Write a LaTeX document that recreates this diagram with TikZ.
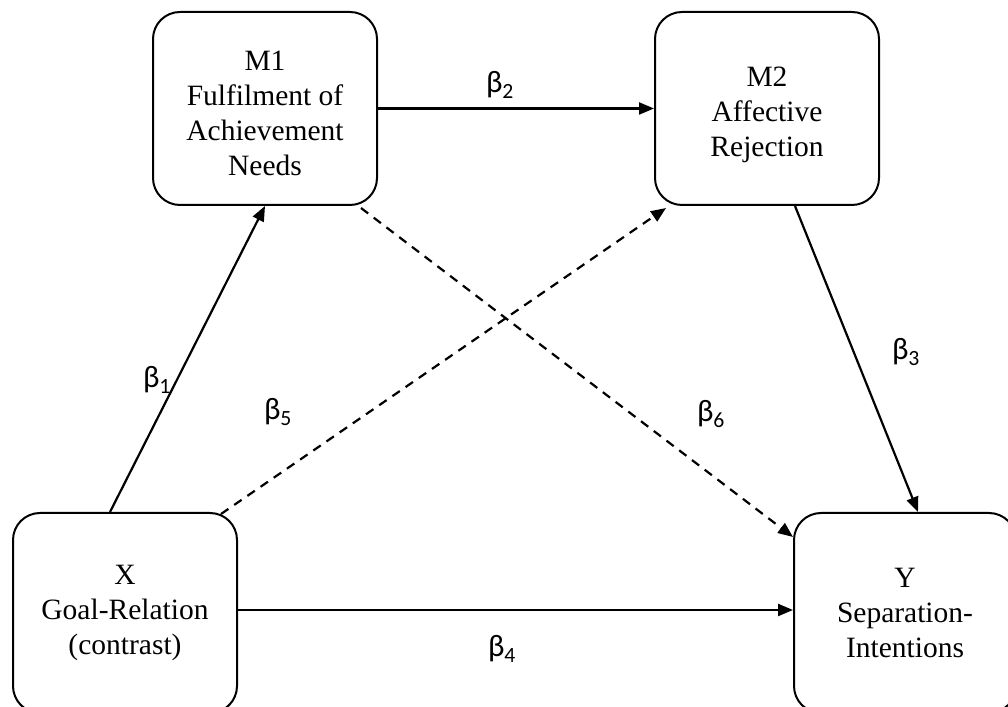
\documentclass[tikz,border=0pt]{standalone}
\usepackage{fontspec}
\setmainfont{Liberation Serif}
\newfontfamily\betafont{Carlito}
\usetikzlibrary{arrows.meta}
\begin{document}
\begin{tikzpicture}[x=1pt,y=1pt,
  box/.style={draw, line width=2pt, rounded corners=27pt, minimum width=224pt,
    minimum height=193pt, align=center, inner sep=0pt,
    font=\fontsize{29.5}{35}\selectfont},
  boxtext/.style={align=center, inner sep=0pt, font=\fontsize{29.5}{35}\selectfont},
  conn/.style={line width=2.2pt, -{Triangle[length=15pt,width=12pt]}},
  dsh/.style={conn, dash pattern=on 9pt off 7pt},
  beta/.style={font=\betafont\fontsize{31}{34}\selectfont, inner sep=0pt}]
\clip (0,0) rectangle (1008,706);
\node[box] (M1) at (265,597.5) {};
\node[boxtext] (M1t) at ([yshift=-5pt]M1.center) {M1\\Fulfilment of\\Achievement\\Needs};
\node[box] (M2) at (767,597.5) {};
\node[boxtext] (M2t) at ([yshift=-6pt]M2.center) {M2\\Affective\\Rejection};
\node[box, minimum height=200pt] (X) at (125,93) {X\\Goal-Relation\\(contrast)};
\node[box, minimum height=200pt, minimum width=222pt] (Y) at (905,93) {Y\\Separation-\\Intentions};
\draw[conn] ([xshift=-15pt]X.north) -- (M1.south);
\draw[conn] (M1.east) -- (M2.west);
\draw[conn] ([xshift=28pt]M2.south) -- ([xshift=13pt]Y.north);
\draw[conn] ([yshift=3pt]X.east) -- ([yshift=3pt]Y.west);
\draw[dsh] ([shift={(-17pt,-2pt)}]X.north east) -- ([shift={(12pt,-2pt)}]M2.south west);
\draw[dsh] ([shift={(-17pt,-2pt)}]M1.south east) -- ([shift={(0pt,-25pt)}]Y.north west);
\node[beta] (b1) at (157,326) {β\textsubscript{1}};
\node[beta] (b2) at (500,621) {β\textsubscript{2}};
\node[beta] (b3) at (906,354) {β\textsubscript{3}};
\node[beta] (b4) at (502,57) {β\textsubscript{4}};
\node[beta] (b5) at (278,294) {β\textsubscript{5}};
\node[beta] (b6) at (711,292) {β\textsubscript{6}};
\end{tikzpicture}
\end{document}
